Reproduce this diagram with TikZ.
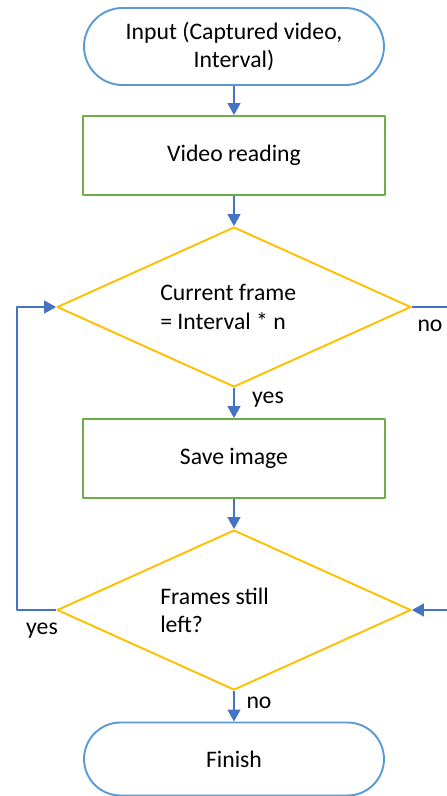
\documentclass[tikz,border=0pt]{standalone}
\usepackage{fontspec}
\setmainfont{Carlito}
\usetikzlibrary{arrows.meta,positioning,shapes.geometric}
\definecolor{Term}{HTML}{5B9BD5}
\definecolor{Proc}{HTML}{70AD47}
\definecolor{Cond}{HTML}{FFC000}
\definecolor{Flow}{HTML}{4472C4}
\tikzset{
  term/.style={draw=Term,line width=1.1pt,rounded corners=0.77cm,minimum width=6cm,minimum height=1.54cm,align=center,font=\fontsize{13.5}{16}\selectfont},
  proc/.style={draw=Proc,line width=1.1pt,minimum width=6.04cm,minimum height=1.58cm,align=center,font=\fontsize{13.5}{16}\selectfont},
  cond/.style={diamond,aspect=2.2,draw=Cond,line width=1.1pt,minimum width=7.08cm,minimum height=3.2cm,inner sep=0pt,text width=2.95cm,align=flush left,font=\fontsize{13.5}{16}\selectfont},
  arr/.style={-{Triangle[length=2.4mm,width=2.6mm]},line width=0.8pt,draw=Flow},
  lbl/.style={font=\fontsize{13.5}{16}\selectfont,inner sep=0pt},
}
\begin{document}
\begin{tikzpicture}[x=0.02cm,y=-0.02cm,line join=round]
\useasboundingbox (0,0) rectangle (447,796);
\clip (0,0) rectangle (447,796);
\node[term] (input) at (234,46.5) {Input (Captured video,\\Interval)};
\node[proc] (read) at (234,155.5) {Video reading};
\node[cond] (cur) at (234,307) {Current frame\\= Interval * n};
\node[proc] (save) at (234,458.5) {Save image};
\node[cond] (chk) at (234,610) {Frames still\\left?};
\node[term,minimum height=1.46cm,rounded corners=0.73cm] (fin) at (234,759) {Finish};
% flow
\draw[arr] (input) -- (read);
\draw[arr] (read) -- (cur);
\draw[arr] (cur) -- (save);
\draw[arr] (save) -- (chk);
\draw[arr] (chk) -- (fin);
\draw[arr] (chk.west) -- ++(-39,0) |- (cur.west);
\draw[arr] (cur.east) -- ++(60,0) |- (chk.east);
% branch labels
\node[lbl] (noA) at (430,326) {no};
\node[lbl] (yesA) at (268,400) {yes};
\node[lbl] (yesB) at (42,631) {yes};
\node[lbl] (noB) at (259,703) {no};
\end{tikzpicture}
\end{document}
